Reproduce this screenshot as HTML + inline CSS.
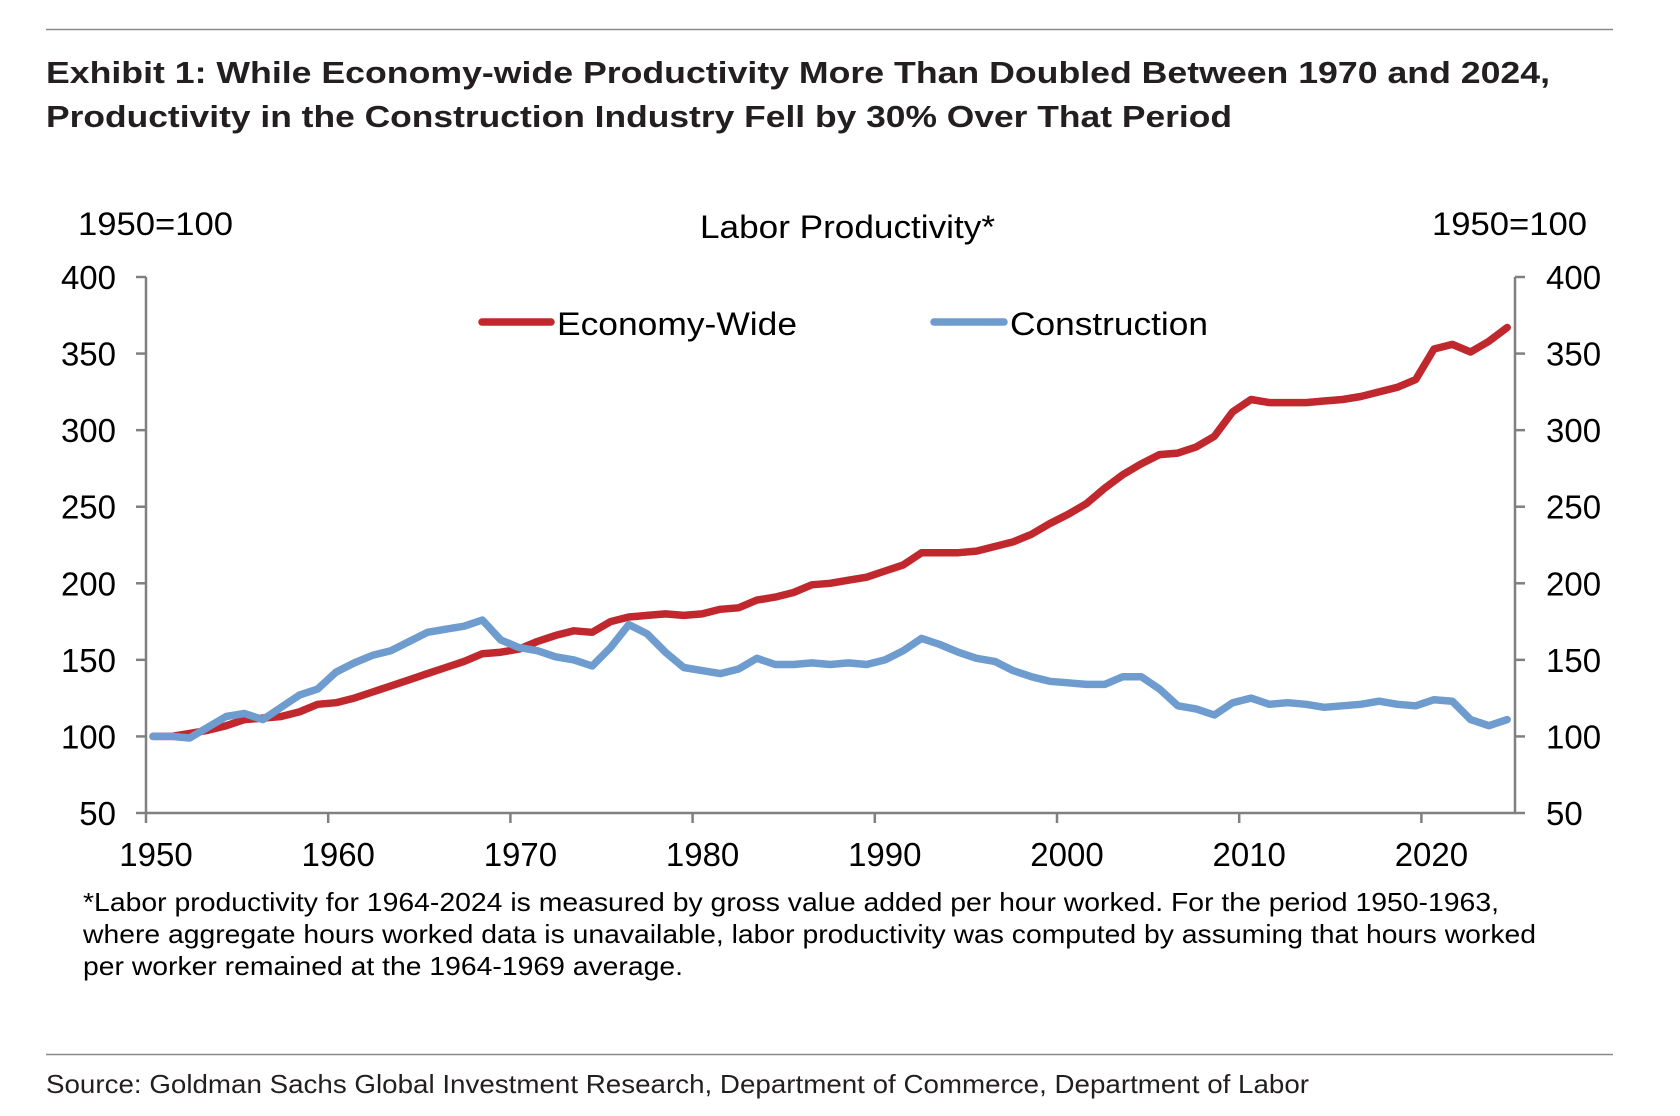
<!DOCTYPE html>
<html><head><meta charset="utf-8"><style>
html,body{margin:0;padding:0;background:#fff;}
svg{display:block;}
text{font-family:"Liberation Sans",Arial,sans-serif;fill:#000;}
.title{font-weight:bold;font-size:31px;fill:#231f20;}
.tick{font-size:33px;}
.note{font-size:26px;}
</style></head><body>
<svg id="chart" width="1680" height="1116" viewBox="0 0 1680 1116">
<line x1="46" y1="29.5" x2="1613" y2="29.5" stroke="#8a8a8a" stroke-width="1.5"/>
<text class="title" x="46" y="83" textLength="1504" lengthAdjust="spacingAndGlyphs">Exhibit 1: While Economy-wide Productivity More Than Doubled Between 1970 and 2024,</text>
<text class="title" x="46" y="127" textLength="1186" lengthAdjust="spacingAndGlyphs">Productivity in the Construction Industry Fell by 30% Over That Period</text>
<text x="78" y="235" font-size="32" textLength="155" lengthAdjust="spacingAndGlyphs">1950=100</text>
<text x="700" y="238" font-size="32" textLength="295" lengthAdjust="spacingAndGlyphs">Labor Productivity*</text>
<text x="1432" y="235" font-size="32" textLength="155" lengthAdjust="spacingAndGlyphs">1950=100</text>
<g id="axes"></g>
<g id="series"></g>
<g>
<line x1="482" y1="322" x2="551" y2="322" stroke="#c0282d" stroke-width="7.5" stroke-linecap="round"/>
<text x="557" y="335" font-size="32" textLength="240" lengthAdjust="spacingAndGlyphs">Economy-Wide</text>
<line x1="934" y1="322" x2="1004" y2="322" stroke="#6f9ccf" stroke-width="7.5" stroke-linecap="round"/>
<text x="1010" y="335" font-size="32" textLength="198" lengthAdjust="spacingAndGlyphs">Construction</text>
</g>
<text class="note" x="83" y="911" textLength="1416" lengthAdjust="spacingAndGlyphs">*Labor productivity for 1964-2024 is measured by gross value added per hour worked. For the period 1950-1963,</text>
<text class="note" x="83" y="943" textLength="1453" lengthAdjust="spacingAndGlyphs">where aggregate hours worked data is unavailable, labor productivity was computed by assuming that hours worked</text>
<text class="note" x="83" y="975" textLength="600" lengthAdjust="spacingAndGlyphs">per worker remained at the 1964-1969 average.</text>
<line x1="46" y1="1054.5" x2="1613" y2="1054.5" stroke="#8a8a8a" stroke-width="1.5"/>
<text x="46" y="1093" font-size="26" style="fill:#231f20" textLength="1263" lengthAdjust="spacingAndGlyphs">Source: Goldman Sachs Global Investment Research, Department of Commerce, Department of Labor</text>
</svg>
<script>
const years = [];
for (let y = 1950; y <= 2024; y++) years.push(y);
const economyWide = [100,100,102,104,107,111,112,113,116,121,122,125,129,133,137,141,145,149,154,155,157,162,166,169,168,175,178,179,180,179,180,183,184,189,191,194,199,200,202,204,208,212,220,220,220,221,224,227,232,239,245,252,262,271,278,284,285,289,296,312,320,318,318,318,319,320,322,325,328,333,353,356,351,358,367];
const construction = [100,100,99,106,113,115,111,119,127,131,142,148,153,156,162,168,170,172,176,163,158,156,152,150,146,158,173,167,155,145,143,141,144,151,147,147,148,147,148,147,150,156,164,160,155,151,149,143,139,136,135,134,134,139,139,131,120,118,114,122,125,121,122,121,119,120,121,123,121,120,124,123,111,107,111];
const yTicks = [50,100,150,200,250,300,350,400];
const xTicks = [1950,1960,1970,1980,1990,2000,2010,2020];

const NS = 'http://www.w3.org/2000/svg';
const leftX = 146, rightX = 1515, y0 = 813, yTop = 277;
function xScale(yr){ return 153 + (yr - 1950) * 18.3; }
function xTickPos(yr){ return 146 + (yr - 1950) * 18.22; }
function yScale(v){ return y0 - (v - 50) * (y0 - yTop) / 350; }
function el(tag, attrs){ const e = document.createElementNS(NS, tag); for (const k in attrs) e.setAttribute(k, attrs[k]); return e; }

const axes = document.getElementById('axes');
const ax = el('path', {d:`M${leftX},${yTop} V${y0} H${rightX} V${yTop}`, fill:'none', stroke:'#808080', 'stroke-width':2.5});


axes.appendChild(ax);
yTicks.forEach(v => {
  const y = yScale(v);
  const t1 = el('line', {x1:leftX-10, y1:y, x2:leftX, y2:y, stroke:'#808080', 'stroke-width':2.5});
  
  
  axes.appendChild(t1);
  const t2 = el('line', {x1:rightX, y1:y, x2:rightX+10, y2:y, stroke:'#808080', 'stroke-width':2.5});
  
  
  axes.appendChild(t2);
  const l1 = el('text', {x:116, y:y+12, 'text-anchor':'end', class:'tick'});
  l1.textContent = v;
  
  
  axes.appendChild(l1);
  const l2 = el('text', {x:1546, y:y+12, class:'tick'});
  l2.textContent = v;
  
  
  axes.appendChild(l2);
});
xTicks.forEach(yr => {
  const x = xTickPos(yr);
  const t = el('line', {x1:x, y1:y0, x2:x, y2:y0+10, stroke:'#808080', 'stroke-width':2.5});
  
  
  axes.appendChild(t);
  const l = el('text', {x:x+10, y:866, 'text-anchor':'middle', class:'tick'});
  l.textContent = yr;
  
  
  axes.appendChild(l);
});

const series = document.getElementById('series');
function line(vals, color, name){
  const d = vals.map((v,i) => (i ? 'L' : 'M') + xScale(years[i]).toFixed(1) + ',' + yScale(v).toFixed(1)).join(' ');
  const p = el('path', {d, fill:'none', stroke:color, 'stroke-width':7.5, 'stroke-linejoin':'round', 'stroke-linecap':'round'});
  
  
  series.appendChild(p);
}
line(economyWide, '#c0282d', 'economy-wide-line');
line(construction, '#6f9ccf', 'construction-line');
</script>
</body></html>
